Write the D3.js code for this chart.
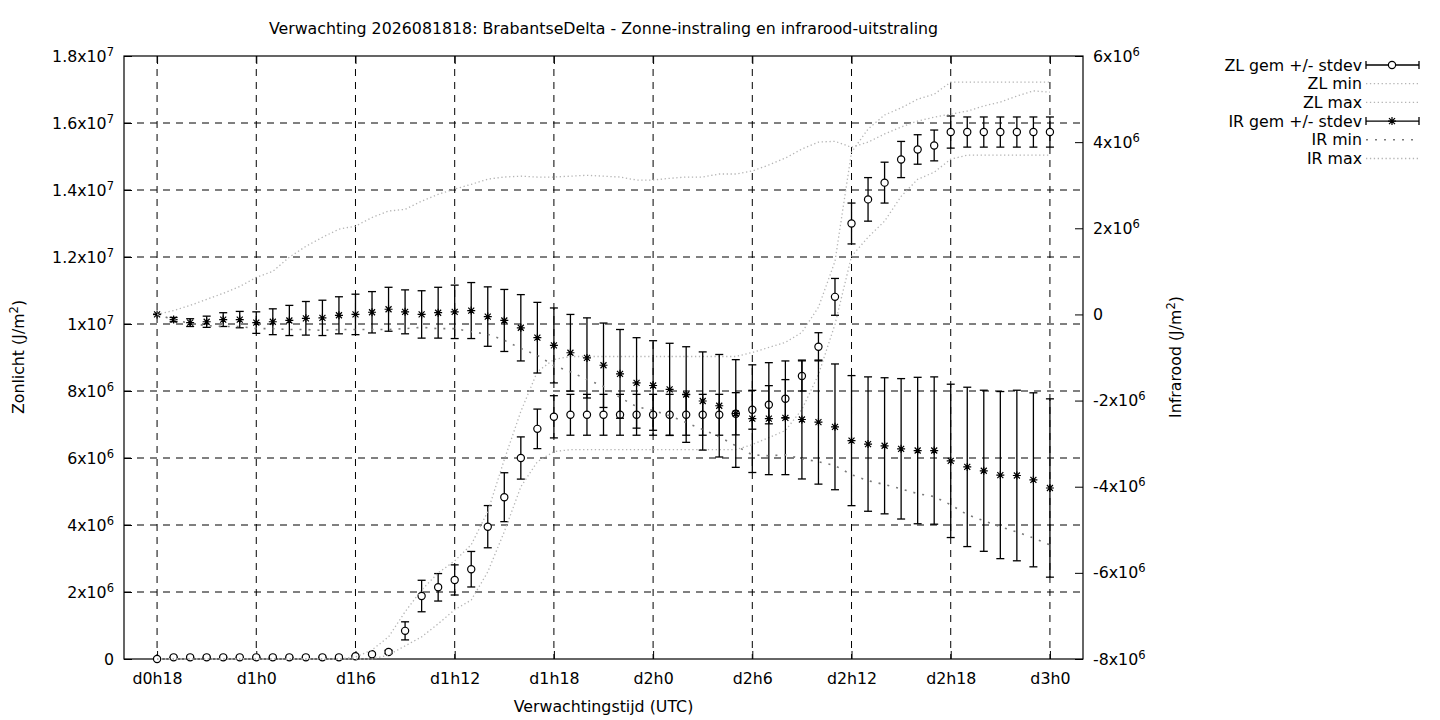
<!DOCTYPE html>
<html><head><meta charset="utf-8">
<script src="https://cdn.jsdelivr.net/npm/d3@7/dist/d3.min.js"></script>
<style>
body{margin:0;background:#fff}
text{font-family:"DejaVu Sans",sans-serif;fill:#000}
</style>
</head><body>
<svg id="chart" width="1440" height="720"></svg>
<script>
// ---- data (values in units of 1e6 J/m2) ----
const UNIT = 1e6;
const hours = [18,19,20,21,22,23,24,25,26,27,28,29,30,31,32,33,34,35,36,37,38,39,40,41,42,43,44,45,
  46,47,48,49,50,51,52,53,54,55,56,57,58,59,60,61,62,63,64,65,66,67,68,69,70,71,72];
const zlMean = [0.0,0.05,0.05,0.05,0.05,0.05,0.05,0.05,0.05,0.05,0.05,0.05,0.08,0.14,0.21,0.84,1.88,2.14,
  2.36,2.68,3.95,4.83,6.00,6.87,7.23,7.29,7.29,7.29,7.29,7.29,7.29,7.29,7.29,7.29,7.29,7.32,7.44,7.59,7.77,
  8.45,9.32,10.81,13.00,13.72,14.22,14.91,15.21,15.33,15.73,15.73,15.73,15.73,15.73,15.73,15.73];
const zlSd = [0,0,0,0,0,0,0,0,0,0,0,0,0.02,0.03,0.05,0.27,0.47,0.41,0.45,0.53,0.63,0.73,0.63,0.59,0.63,
  0.61,0.61,0.61,0.61,0.61,0.61,0.61,0.61,0.61,0.61,0.63,0.58,0.57,0.57,0.45,0.42,0.55,0.61,0.65,0.61,0.54,
  0.44,0.46,0.48,0.45,0.45,0.45,0.45,0.45,0.45];
const zlMin = [0,0,0,0,0,0,0,0,0,0,0,0,0,0,0.12,0.39,0.66,1.05,1.47,1.76,2.60,3.80,5.14,5.89,6.19,6.25,
  6.25,6.25,6.25,6.25,6.25,6.25,6.25,6.25,6.25,6.25,6.40,6.61,6.82,7.45,8.49,9.99,12.02,12.59,13.07,13.81,
  14.32,14.53,14.92,15.04,15.04,15.04,15.04,15.04,15.04];
const zlMax = [0,0,0,0,0,0,0,0,0,0,0,0,0.06,0.27,0.66,1.41,2.06,2.57,2.93,3.41,4.40,5.95,7.39,8.58,8.94,
  9.03,9.03,9.03,9.03,9.03,9.03,9.03,9.03,9.03,9.03,9.03,9.15,9.30,9.45,9.75,10.5,11.87,15.13,15.82,16.24,
  16.45,16.71,16.86,17.22,17.22,17.22,17.22,17.22,17.22,17.22];
const irMean = [0.0,-0.12,-0.19,-0.17,-0.12,-0.12,-0.19,-0.17,-0.14,-0.09,-0.08,-0.02,0.0,0.05,0.12,0.06,
  0.0,0.04,0.06,0.09,-0.05,-0.14,-0.31,-0.54,-0.72,-0.89,-1.01,-1.18,-1.38,-1.59,-1.65,-1.74,-1.86,-2.01,
  -2.12,-2.30,-2.42,-2.42,-2.40,-2.44,-2.50,-2.61,-2.93,-3.01,-3.05,-3.12,-3.16,-3.16,-3.40,-3.54,-3.63,
  -3.73,-3.74,-3.84,-4.03];
const irSd = [0.0,0.05,0.09,0.13,0.16,0.19,0.25,0.30,0.35,0.39,0.41,0.43,0.47,0.48,0.51,0.51,0.55,0.59,
  0.62,0.65,0.69,0.72,0.77,0.82,0.87,0.89,0.93,0.98,1.03,1.05,1.04,1.07,1.11,1.14,1.19,1.25,1.25,1.30,1.32,
  1.38,1.44,1.46,1.51,1.56,1.58,1.63,1.70,1.71,1.78,1.85,1.87,1.94,1.98,2.02,2.07];
const irMin = [0.0,-0.12,-0.21,-0.26,-0.28,-0.28,-0.33,-0.33,-0.35,-0.35,-0.37,-0.35,-0.35,-0.35,-0.35,
  -0.33,-0.30,-0.33,-0.33,-0.40,-0.46,-0.60,-0.79,-0.95,-1.19,-1.33,-1.51,-1.67,-1.93,-2.14,-2.23,-2.35,
  -2.51,-2.67,-2.84,-3.05,-3.26,-3.28,-3.26,-3.35,-3.42,-3.51,-3.72,-3.86,-3.95,-4.05,-4.16,-4.23,-4.42,
  -4.65,-4.79,-4.93,-5.05,-5.19,-5.35];
const irMax = [0.0,0.09,0.21,0.35,0.49,0.65,0.86,1.0,1.33,1.58,1.79,1.98,2.05,2.25,2.40,2.44,2.63,2.79,
  2.91,3.02,3.14,3.19,3.21,3.19,3.19,3.21,3.23,3.21,3.19,3.12,3.12,3.16,3.19,3.19,3.26,3.26,3.33,3.47,3.63,
  3.84,4.0,4.02,3.88,4.0,4.19,4.35,4.49,4.58,4.65,4.72,4.84,4.93,5.07,5.19,5.16];

const xTickHours = [18,24,30,36,42,48,54,60,66,72];
const xTickLabels = ["d0h18","d1h0","d1h6","d1h12","d1h18","d2h0","d2h6","d2h12","d2h18","d3h0"];
const yLeftTicks = [0,2e6,4e6,6e6,8e6,1e7,1.2e7,1.4e7,1.6e7,1.8e7];
const yLeftLabels = ["0","2x10^6","4x10^6","6x10^6","8x10^6","1x10^7","1.2x10^7","1.4x10^7","1.6x10^7","1.8x10^7"];
const yRightTicks = [-8e6,-6e6,-4e6,-2e6,0,2e6,4e6,6e6];
const yRightLabels = ["-8x10^6","-6x10^6","-4x10^6","-2x10^6","0","2x10^6","4x10^6","6x10^6"];
const legendLabels = ["ZL gem +/- stdev","ZL min","ZL max","IR gem +/- stdev","IR min","IR max"];

// ---- scales ----
const L = 124, R = 1083, T = 56, B = 659;
const FS = 15.8, SUP = 11.5;
const x = d3.scaleLinear().domain([16, 74]).range([L, R]);
const yL = d3.scaleLinear().domain([0, 1.8e7]).range([B, T]);
const yR = d3.scaleLinear().domain([-8e6, 6e6]).range([B, T]);

const svg = d3.select("#chart");

function supText(sel, str) {
  sel.text(null);
  const parts = str.split("^");
  sel.append("tspan").text(parts[0]);
  if (parts.length > 1) {
    sel.append("tspan").attr("dy", -6).attr("font-size", SUP).text(parts[1]);
  }
}

// ---- grid ----
const grid = svg.append("g").attr("stroke", "#000").attr("stroke-width", 1).attr("stroke-dasharray", "7,6");
grid.selectAll("line.v").data(xTickHours).join("line")
  .attr("x1", d => x(d)).attr("x2", d => x(d)).attr("y1", T).attr("y2", B);
grid.selectAll("line.h").data(yLeftTicks.slice(1, -1)).join("line")
  .attr("x1", L).attr("x2", R).attr("y1", d => yL(d)).attr("y2", d => yL(d));

// ---- axes ----
const axL = svg.append("g").attr("transform", `translate(${L},0)`)
  .call(d3.axisLeft(yL).tickValues(yLeftTicks).tickSize(-8).tickPadding(10));
axL.selectAll("text").each(function(d, i) { supText(d3.select(this), yLeftLabels[i]); });
const axR = svg.append("g").attr("transform", `translate(${R},0)`)
  .call(d3.axisRight(yR).tickValues(yRightTicks).tickSize(-8).tickPadding(10));
axR.selectAll("text").each(function(d, i) { supText(d3.select(this), yRightLabels[i]); });
const axB = svg.append("g").attr("transform", `translate(0,${B})`)
  .call(d3.axisBottom(x).tickValues(xTickHours).tickSize(-8).tickPadding(14)
    .tickFormat((d, i) => xTickLabels[i]));
const axT = svg.append("g").attr("transform", `translate(0,${T})`)
  .call(d3.axisTop(x).tickValues(xTickHours).tickSize(-8).tickFormat(""));
[axL, axR, axB, axT].forEach(a => {
  a.select(".domain").remove();
  a.selectAll("text").attr("font-size", FS).attr("font-family", "DejaVu Sans, sans-serif").attr("fill", "#000");
  a.selectAll("line").attr("stroke", "#000");
});

svg.append("rect").attr("x", L).attr("y", T).attr("width", R - L).attr("height", B - T)
  .attr("fill", "none").attr("stroke", "#000").attr("stroke-width", 1.2);

// ---- texts ----
svg.append("text").attr("x", (L + R) / 2).attr("y", 34).attr("text-anchor", "middle")
  .attr("font-size", FS).text("Verwachting 2026081818: BrabantseDelta - Zonne-instraling en infrarood-uitstraling");
svg.append("text").attr("x", (L + R) / 2).attr("y", 712).attr("text-anchor", "middle")
  .attr("font-size", FS).text("Verwachtingstijd (UTC)");
function yTitle(xp, label) {
  const t = svg.append("text").attr("transform", `translate(${xp},357) rotate(-90)`)
    .attr("text-anchor", "middle").attr("font-size", FS);
  t.append("tspan").text(label + " (J/m");
  t.append("tspan").attr("dy", -6).attr("font-size", SUP).text("2");
  t.append("tspan").attr("dy", 6).text(")");
}
yTitle(24, "Zonlicht");
yTitle(1181, "Infrarood");

// ---- series ----
const zl = hours.map((h, i) => ({h, m: zlMean[i] * UNIT, s: zlSd[i] * UNIT, lo: zlMin[i] * UNIT, hi: zlMax[i] * UNIT}));
const ir = hours.map((h, i) => ({h, m: irMean[i] * UNIT, s: irSd[i] * UNIT, lo: irMin[i] * UNIT, hi: irMax[i] * UNIT}));

function errorBars(data, y, g) {
  const e = g.selectAll("g").data(data).join("g").attr("stroke", "#000").attr("stroke-width", 1.3);
  e.append("line").attr("x1", d => x(d.h)).attr("x2", d => x(d.h))
    .attr("y1", d => y(d.m - d.s)).attr("y2", d => y(d.m + d.s));
  e.append("line").attr("x1", d => x(d.h) - 4).attr("x2", d => x(d.h) + 4)
    .attr("y1", d => y(d.m - d.s)).attr("y2", d => y(d.m - d.s));
  e.append("line").attr("x1", d => x(d.h) - 4).attr("x2", d => x(d.h) + 4)
    .attr("y1", d => y(d.m + d.s)).attr("y2", d => y(d.m + d.s));
}
const starPath = "M-4,0H4M0,-4V4M-3,-3L3,3M-3,3L3,-3";

// ZL mean +/- stdev
const gZL = svg.append("g");
errorBars(zl, yL, gZL);
svg.append("g").selectAll("circle").data(zl).join("circle")
  .attr("cx", d => x(d.h)).attr("cy", d => yL(d.m)).attr("r", 3.6)
  .attr("fill", "#fff").attr("stroke", "#000").attr("stroke-width", 1.2);

const lightDot = {stroke: "#b4b4b4", width: 1.3, dash: "1.3,2.6"};
const darkDot = {stroke: "#7a7a7a", width: 1.6, dash: "2,7"};
function drawLine(data, acc, y, st) {
  svg.append("path").datum(data)
    .attr("d", d3.line().x(d => x(d.h)).y(d => y(acc(d))))
    .attr("fill", "none").attr("stroke", st.stroke).attr("stroke-width", st.width)
    .attr("stroke-dasharray", st.dash);
}
drawLine(zl, d => d.lo, yL, lightDot);
drawLine(zl, d => d.hi, yL, lightDot);

// IR mean +/- stdev
const gIR = svg.append("g");
errorBars(ir, yR, gIR);
svg.append("g").selectAll("path").data(ir).join("path")
  .attr("transform", d => `translate(${x(d.h)},${yR(d.m)})`)
  .attr("d", starPath).attr("stroke", "#000").attr("stroke-width", 1.2).attr("fill", "none");
drawLine(ir, d => d.lo, yR, darkDot);
drawLine(ir, d => d.hi, yR, lightDot);

// ---- legend ----
const legStyles = ["zl", lightDot, lightDot, "ir", darkDot, lightDot];
const leg = svg.append("g");
legendLabels.forEach((lab, i) => {
  const cy = 65 + i * 18.7;
  leg.append("text").attr("x", 1362).attr("y", cy).attr("dy", "0.35em")
    .attr("text-anchor", "end").attr("font-size", FS).text(lab);
  const st = legStyles[i];
  if (typeof st === "string") {
    const g = leg.append("g").attr("stroke", "#000").attr("stroke-width", 1.3);
    g.append("line").attr("x1", 1366).attr("x2", 1419).attr("y1", cy).attr("y2", cy);
    g.append("line").attr("x1", 1366).attr("x2", 1366).attr("y1", cy - 4).attr("y2", cy + 4);
    g.append("line").attr("x1", 1419).attr("x2", 1419).attr("y1", cy - 4).attr("y2", cy + 4);
    if (st === "zl") {
      leg.append("circle").attr("cx", 1392).attr("cy", cy).attr("r", 3.6)
        .attr("fill", "#fff").attr("stroke", "#000").attr("stroke-width", 1.2);
    } else {
      leg.append("path").attr("transform", `translate(1392,${cy})`).attr("d", starPath)
        .attr("stroke", "#000").attr("stroke-width", 1.2);
    }
  } else {
    leg.append("line").attr("x1", 1366).attr("x2", 1419).attr("y1", cy).attr("y2", cy)
      .attr("stroke", st.stroke).attr("stroke-width", st.width).attr("stroke-dasharray", st.dash);
  }
});
</script>
</body></html>
